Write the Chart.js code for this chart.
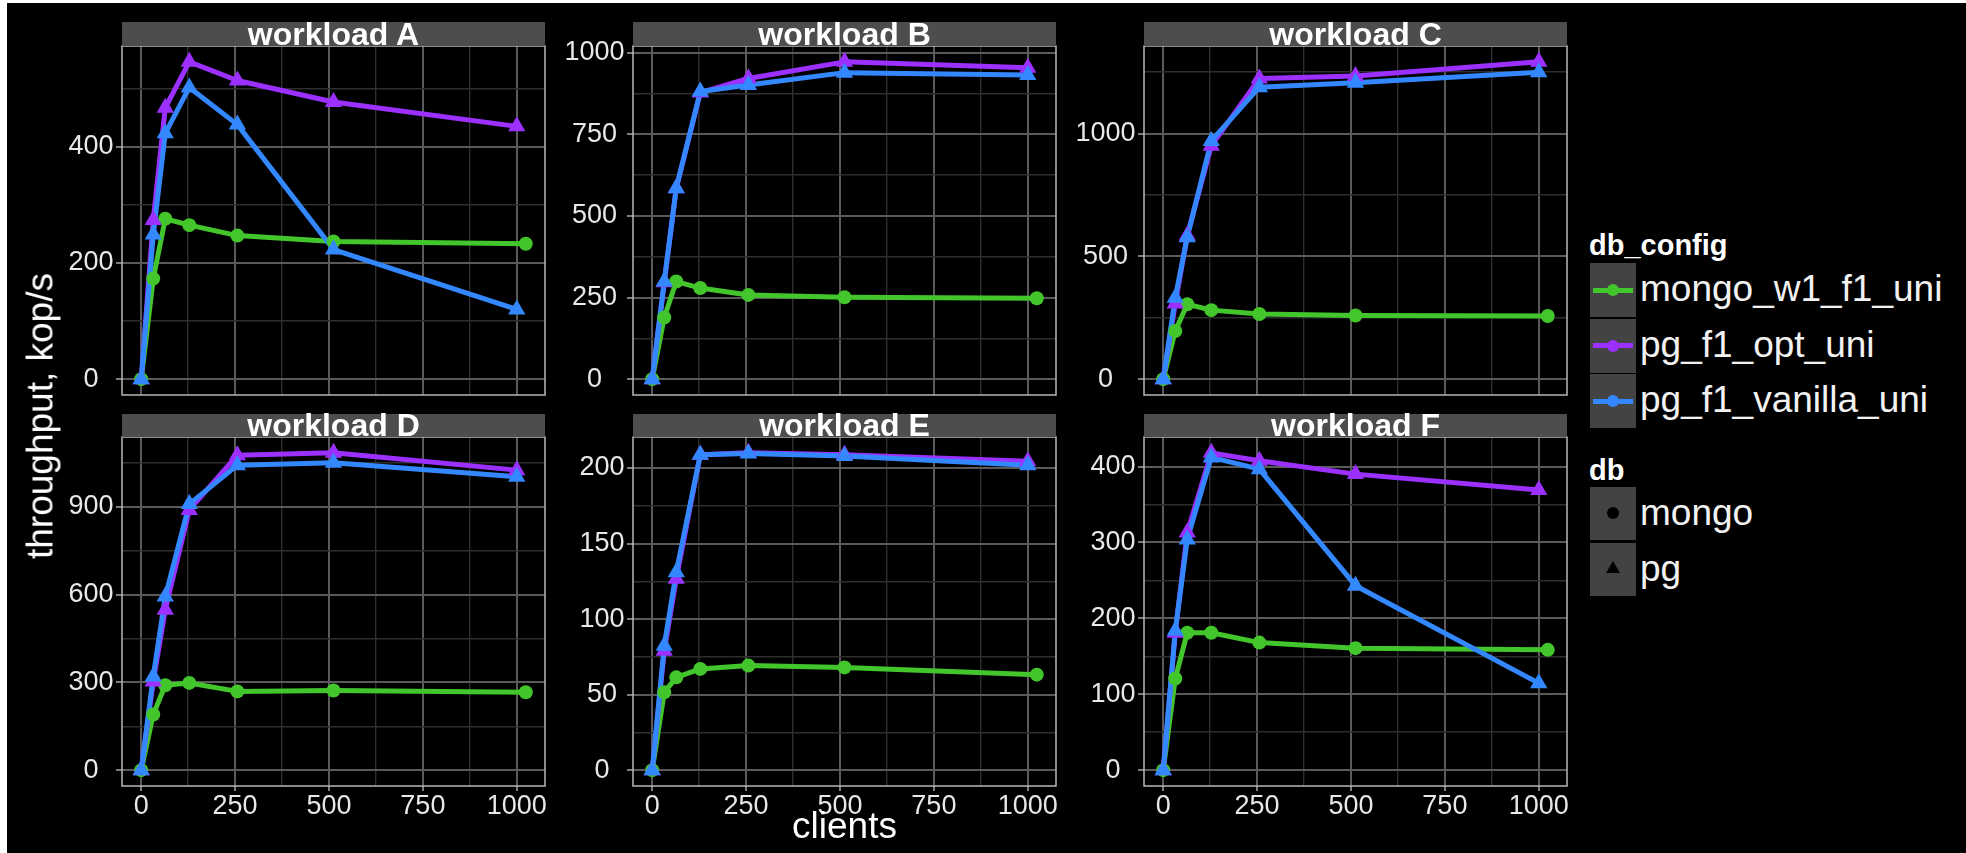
<!DOCTYPE html>
<html lang="en">
<head>
<meta charset="utf-8">
<title>Throughput by workload</title>
<script src="https://cdn.jsdelivr.net/npm/chart.js@4.4.1/dist/chart.umd.min.js"></script>
<style>
  html, body { margin: 0; padding: 0; width: 1966px; height: 853px; overflow: hidden; background: #fff; font-family: "Liberation Sans", Arial, sans-serif; }
  #backdrop { position: absolute; left: 7px; top: 3px; right: 0; bottom: 0; background: #000; }
  canvas { position: absolute; }
  .strip { position: absolute; background: #4d4d4d; color: #fff; font-weight: bold; font-size: 32px; text-align: center; white-space: nowrap; z-index: 3; }
  .axis-title { position: absolute; color: #fff; font-size: 37px; line-height: 37px; white-space: nowrap; transform: translate(-50%, -50%); }
  .legend-title { position: absolute; color: #fff; font-weight: bold; font-size: 29px; line-height: 29px; white-space: nowrap; }
  .legend-label { position: absolute; color: #f2f2f2; font-size: 37px; line-height: 37px; white-space: nowrap; }
  .key { position: absolute; width: 46px; background: #434343; }
  .key .seg { position: absolute; left: 3px; width: 40px; height: 5px; }
  .key .dot { position: absolute; width: 12px; height: 12px; border-radius: 50%; }
  .key .tri { position: absolute; width: 0; height: 0; border-left: 7px solid transparent; border-right: 7px solid transparent; border-bottom: 12px solid #000; }
</style>
</head>
<body>
<div id="backdrop"></div>

<script>
// clients per run (pg was run with 1000 clients at the top end, mongo with 1024)
const clientsMongo = [0, 32, 64, 128, 256, 512, 1024];
const clientsPg = [0, 32, 64, 128, 256, 512, 1000];

const seriesNames = ["mongo_w1_f1_uni", "pg_f1_opt_uni", "pg_f1_vanilla_uni"];
const seriesColors = ["#42c62b", "#9b30ff", "#3388ff"];
const dbNames = ["mongo", "pg"];

// throughput, kop/s
const mongoA = [0, 173, 276, 265, 247, 237, 233];
const pgOptA = [0, 274, 467, 546, 514, 477, 435];
const pgVanA = [0, 249, 423, 502, 438, 223, 120];

const mongoB = [0, 189, 299, 279, 258, 251, 248];
const pgOptB = [0, 297, 585, 878, 921, 972, 954];
const pgVanB = [0, 299, 585, 881, 901, 939, 932];

const mongoC = [0, 196, 305, 281, 265, 259, 257];
const pgOptC = [0, 308, 585, 950, 1224, 1234, 1292];
const pgVanC = [0, 331, 578, 970, 1189, 1207, 1250];

const mongoD = [0, 190, 290, 298, 269, 272, 266];
const pgOptD = [0, 303, 548, 889, 1076, 1084, 1025];
const pgVanD = [0, 320, 593, 909, 1042, 1050, 1002];

const mongoE = [0, 51.5, 61.4, 67, 69.2, 68, 63.2];
const pgOptE = [0, 79, 126.6, 208.8, 210, 208.8, 204.4];
const pgVanE = [0, 82.4, 131, 208.8, 209.5, 208, 201.8];

const mongoF = [0, 120.7, 181, 181, 168, 160.7, 158.5];
const pgOptF = [0, 181, 313, 418, 407.5, 390, 369];
const pgVanF = [0, 183.5, 304, 412, 396.5, 243, 114.6];

// tick labels (major) and minor grid values
const xTicks = [0, 250, 500, 750, 1000];
const xMinor = [125, 375, 625, 875];
const yTicksA = [0, 200, 400],            yMinorA = [100, 300, 500];
const yTicksB = [0, 250, 500, 750, 1000], yMinorB = [125, 375, 625, 875];
const yTicksC = [0, 500, 1000],           yMinorC = [250, 750, 1250];
const yTicksD = [0, 300, 600, 900],       yMinorD = [150, 450, 750, 1050];
const yTicksE = [0, 50, 100, 150, 200],   yMinorE = [25, 75, 125, 175];
const yTicksF = [0, 100, 200, 300, 400],  yMinorF = [50, 150, 250, 350];

const panels = [
  { title: "workload A", mongo: mongoA, opt: pgOptA, van: pgVanA, major: yTicksA, minor: yMinorA },
  { title: "workload B", mongo: mongoB, opt: pgOptB, van: pgVanB, major: yTicksB, minor: yMinorB },
  { title: "workload C", mongo: mongoC, opt: pgOptC, van: pgVanC, major: yTicksC, minor: yMinorC },
  { title: "workload D", mongo: mongoD, opt: pgOptD, van: pgVanD, major: yTicksD, minor: yMinorD },
  { title: "workload E", mongo: mongoE, opt: pgOptE, van: pgVanE, major: yTicksE, minor: yMinorE },
  { title: "workload F", mongo: mongoF, opt: pgOptF, van: pgVanF, major: yTicksF, minor: yMinorF }
];

// page layout (px)
const plotLefts = [122, 633, 1144];
const plotTops = [46, 437];
const stripTops = [22, 414];
const stripHeights = [24, 23];
const plotW = 423, plotH = 349;
const axisW = 100, padT = 22, padB = 8, padR = 12;

const GRID_MAJOR = "#5a5a5a";
const GRID_MINOR = "#2e2e2e";
const TICK_TEXT = "#e8e8e8";

Chart.defaults.font.family = '"Liberation Sans", Arial, sans-serif';

// ggplot-style 5% expansion on each side
function expandRange(values) {
  const lo = Math.min(...values), hi = Math.max(...values);
  const e = (hi - lo) * 0.05;
  return [lo - e, hi + e];
}

function toPoints(xs, ys) {
  return xs.map((x, k) => ({ x: x, y: ys[k] }));
}

const [xMin, xMax] = expandRange(clientsMongo.concat(clientsPg));

const panelFrame = {
  id: "panelFrame",
  afterDraw(chart) {
    const { ctx, chartArea: a } = chart;
    ctx.save();
    ctx.strokeStyle = "#b8b8b8";
    ctx.lineWidth = 1.5;
    ctx.strokeRect(a.left, a.top, a.right - a.left, a.bottom - a.top);
    ctx.restore();
  }
};

panels.forEach((p, i) => {
  const col = i % 3, row = Math.floor(i / 3);
  const bottomRow = row === 1;
  const xAxisH = bottomRow ? 42 : 0;

  // strip label
  const strip = document.createElement("div");
  strip.className = "strip";
  strip.textContent = p.title;
  strip.style.left = plotLefts[col] + "px";
  strip.style.top = stripTops[row] + "px";
  strip.style.width = plotW + "px";
  strip.style.height = stripHeights[row] + "px";
  strip.style.lineHeight = stripHeights[row] + "px";
  document.body.appendChild(strip);

  const canvas = document.createElement("canvas");
  canvas.width = axisW + plotW + padR;
  canvas.height = padT + plotH + xAxisH + padB;
  canvas.style.left = (plotLefts[col] - axisW) + "px";
  canvas.style.top = (plotTops[row] - padT) + "px";
  document.body.appendChild(canvas);

  const [yMin, yMax] = expandRange(p.mongo.concat(p.opt, p.van));
  const yAll = p.major.concat(p.minor).sort((a, b) => a - b);
  const xAll = xTicks.concat(xMinor).sort((a, b) => a - b);

  const groups = [
    { xs: clientsMongo, ys: p.mongo, shape: "circle", r: 7 },
    { xs: clientsPg, ys: p.opt, shape: "triangle", r: 10 },
    { xs: clientsPg, ys: p.van, shape: "triangle", r: 10 }
  ];
  const datasets = [];
  // lines first (green, purple, blue), then all points on top
  groups.forEach((g, k) => {
    datasets.push({
      label: seriesNames[k],
      data: toPoints(g.xs, g.ys),
      showLine: true,
      borderColor: seriesColors[k],
      borderWidth: 5,
      borderJoinStyle: "round",
      pointRadius: 0,
      tension: 0,
      order: 6 - k
    });
    datasets.push({
      label: seriesNames[k],
      data: toPoints(g.xs, g.ys),
      showLine: false,
      pointStyle: g.shape,
      pointRadius: g.r,
      pointBackgroundColor: seriesColors[k],
      pointBorderColor: seriesColors[k],
      pointBorderWidth: 0,
      order: 3 - k
    });
  });

  new Chart(canvas, {
    type: "scatter",
    data: { datasets: datasets },
    plugins: [panelFrame],
    options: {
      responsive: false,
      animation: false,
      events: [],
      layout: { padding: { top: padT, bottom: padB, left: 0, right: padR }, autoPadding: false },
      plugins: { legend: { display: false }, tooltip: { enabled: false } },
      scales: {
        x: {
          type: "linear",
          min: xMin,
          max: xMax,
          afterBuildTicks: (axis) => { axis.ticks = xAll.map(v => ({ value: v })); },
          afterFit: (axis) => {
            axis.height = xAxisH;
            axis.paddingLeft = 0; axis.paddingRight = 0;
          },
          border: { display: false },
          grid: {
            color: (c) => xTicks.includes(c.tick.value) ? GRID_MAJOR : GRID_MINOR,
            lineWidth: (c) => xTicks.includes(c.tick.value) ? 2 : 1.4,
            drawTicks: bottomRow,
            tickLength: 5,
            tickWidth: 2,
            tickColor: (c) => xTicks.includes(c.tick.value) ? "#7d7d7d" : "rgba(0,0,0,0)"
          },
          ticks: {
            display: bottomRow,
            autoSkip: false,
            minRotation: 0,
            maxRotation: 0,
            padding: 2,
            color: TICK_TEXT,
            font: { size: 27, lineHeight: 1 },
            callback: (v) => xTicks.includes(v) ? String(v) : ""
          }
        },
        y: {
          type: "linear",
          min: yMin,
          max: yMax,
          afterBuildTicks: (axis) => { axis.ticks = yAll.map(v => ({ value: v })); },
          afterFit: (axis) => {
            axis.width = axisW;
            axis.paddingTop = 0; axis.paddingBottom = 0;
          },
          border: { display: false },
          grid: {
            color: (c) => p.major.includes(c.tick.value) ? GRID_MAJOR : GRID_MINOR,
            lineWidth: (c) => p.major.includes(c.tick.value) ? 2 : 1.4,
            drawTicks: true,
            tickLength: 6,
            tickWidth: 2,
            tickColor: (c) => p.major.includes(c.tick.value) ? "#7d7d7d" : "rgba(0,0,0,0)"
          },
          ticks: {
            autoSkip: false,
            crossAlign: "center",
            padding: 2.5,
            color: TICK_TEXT,
            font: { size: 27, lineHeight: 1 },
            callback: (v) => p.major.includes(v) ? String(v) : ""
          }
        }
      }
    }
  });
});

// axis titles
function addText(cls, text, left, top, extra) {
  const el = document.createElement("div");
  el.className = cls;
  el.textContent = text;
  el.style.left = left + "px";
  el.style.top = top + "px";
  if (extra) Object.assign(el.style, extra);
  document.body.appendChild(el);
  return el;
}
addText("axis-title", "clients", 844.5, 825);
addText("axis-title", "throughput, kop/s", 40, 416, { transform: "translate(-50%, -50%) rotate(-90deg)" });

// legends
const legendX = 1590;
addText("legend-title", "db_config", 1589, 230.5);
seriesNames.forEach((name, k) => {
  const top = 263 + k * 55.5;
  const key = document.createElement("div");
  key.className = "key";
  key.style.left = legendX + "px";
  key.style.top = top + "px";
  key.style.height = "54px";
  const seg = document.createElement("div");
  seg.className = "seg";
  seg.style.top = "24.5px";
  seg.style.background = seriesColors[k];
  const dot = document.createElement("div");
  dot.className = "dot";
  dot.style.left = "17px";
  dot.style.top = "21px";
  dot.style.background = seriesColors[k];
  key.appendChild(seg);
  key.appendChild(dot);
  document.body.appendChild(key);
  addText("legend-label", name, 1640, top + 7.2);
});

addText("legend-title", "db", 1589, 455.5);
dbNames.forEach((name, k) => {
  const top = 487.3 + k * 56;
  const key = document.createElement("div");
  key.className = "key";
  key.style.left = legendX + "px";
  key.style.top = top + "px";
  key.style.height = "53px";
  const mark = document.createElement("div");
  if (k === 0) {
    mark.className = "dot";
    mark.style.left = "17px";
    mark.style.top = "20px";
    mark.style.background = "#000";
  } else {
    mark.className = "tri";
    mark.style.left = "16px";
    mark.style.top = "18px";
  }
  key.appendChild(mark);
  document.body.appendChild(key);
  addText("legend-label", name, 1640, top + 6.4);
});
</script>
</body>
</html>
